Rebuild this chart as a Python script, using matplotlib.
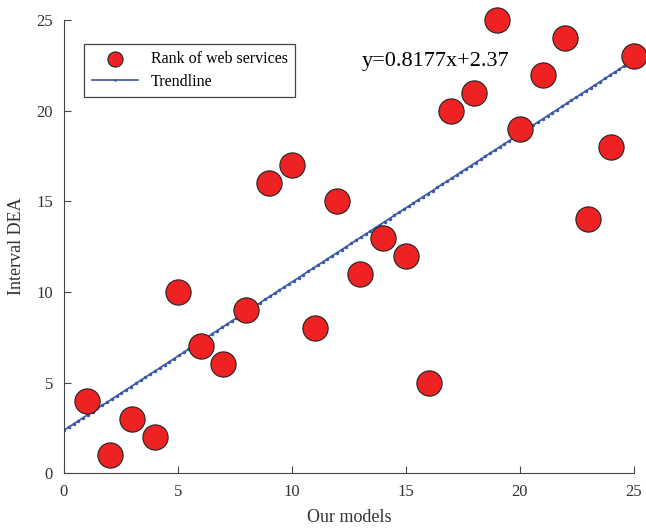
import numpy as np
import matplotlib
matplotlib.use("Agg")
from matplotlib import pyplot as plt

# ranks from the two methods
our_models = [1, 2, 3, 4, 5, 6, 7, 8, 9, 10, 11, 12, 13, 14, 15, 16, 17, 18, 19, 20, 21, 22, 23, 24, 25]
interval_dea = [4, 1, 3, 2, 10, 7, 6, 9, 16, 17, 8, 15, 11, 13, 12, 5, 20, 21, 25, 19, 22, 24, 14, 18, 23]

plt.rcParams.update({'font.family': ['Liberation Serif', 'DejaVu Serif'], 'font.size': 12})

fig = plt.figure(figsize=(6.46, 5.31), dpi=100)
ax = fig.add_axes([0.099, 0.109, 0.882, 0.853])

slope, intercept = np.polyfit(our_models, interval_dea, 1)
xs = np.linspace(0, 25, 120)
ax.plot(xs, slope * xs + intercept, color="#3a5aa8", lw=1.2, marker=".", ms=3, label="Trendline")
ax.scatter(our_models, interval_dea, s=330, c="#ee2222", edgecolors="#222222", linewidths=0.8,
           label="Rank of web services", zorder=3, clip_on=False)

ax.text(13.05, 22.7, f"y={slope:.4f}x+{intercept:.2f}", fontsize=16, va="center")

ax.set_xlim(0, 25)
ax.set_ylim(0, 25)
ax.set_xticks([0, 5, 10, 15, 20, 25])
ax.set_yticks([0, 5, 10, 15, 20, 25])
ax.spines["top"].set_visible(False)
ax.spines["right"].set_visible(False)
ax.spines["left"].set_color("#444444")
ax.spines["bottom"].set_color("#444444")
ax.tick_params(direction="in", length=5, colors="#444444", labelcolor="#333333", labelsize=12, pad=8)
ax.set_xlabel("Our models", fontsize=13, color="#333333", labelpad=6)
ax.set_ylabel("Interval DEA", fontsize=13, color="#333333", labelpad=8)

handles, labels = ax.get_legend_handles_labels()
leg = ax.legend(handles[::-1], labels[::-1], loc="upper left", bbox_to_anchor=(0.022, 0.965),
                fancybox=False, edgecolor="#444444", framealpha=1, fontsize=11.5,
                markerscale=0.6, handlelength=2.9, borderpad=0.45, labelspacing=0.4)
leg.get_frame().set_linewidth(0.9)

plt.savefig("out.png")
